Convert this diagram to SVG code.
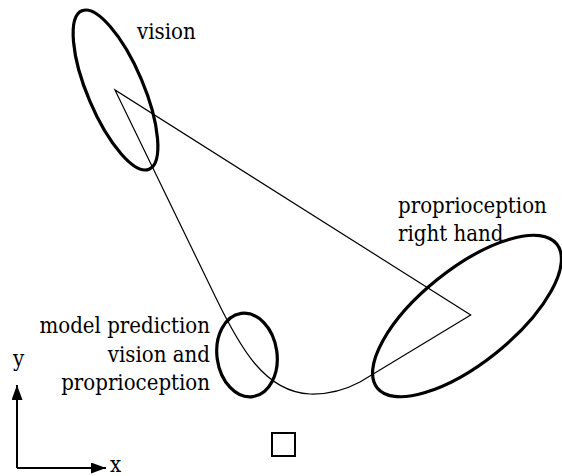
<svg xmlns="http://www.w3.org/2000/svg" width="562" height="476" viewBox="0 0 562 476">
<style>
text{font-family:'DejaVu Serif Condensed','DejaVu Serif',serif;font-stretch:condensed;font-size:22px;fill:#000}
.e{fill:none;stroke:#000;stroke-width:3.2}
.ln{fill:none;stroke:#000;stroke-width:1.2;stroke-linejoin:miter}
.ax{fill:none;stroke:#000;stroke-width:2}
</style>
<defs>
<marker id="ah" markerWidth="16" markerHeight="12" refX="15" refY="5.5" orient="auto" markerUnits="userSpaceOnUse">
<path d="M0,0 L15,5.5 L0,11 Z" fill="#000"/>
</marker>
</defs>
<rect width="562" height="476" fill="#fff"/>
<g id="connectors">
<path class="ln" d="M115,90 L215,296 C240,348 265,392 310,394 C328,394.5 345,390 360,382 L470.7,315 Z"/>
</g>
<g id="vision">
<ellipse class="e" cx="115.5" cy="90" rx="86" ry="28" transform="rotate(67 115.5 90)"/>
<text x="137" y="39">vision</text>
</g>
<g id="proprioception-right-hand">
<ellipse class="e" cx="467" cy="316" rx="115" ry="47" transform="rotate(-38.7 467 316)"/>
<text x="398" y="213">proprioception</text>
<text x="398" y="241">right hand</text>
</g>
<g id="model-prediction">
<ellipse class="e" cx="247" cy="355" rx="30" ry="42" transform="rotate(-8 247 355)"/>
<text x="210" y="333" text-anchor="end">model prediction</text>
<text x="210" y="362" text-anchor="end">vision and</text>
<text x="210" y="390" text-anchor="end">proprioception</text>
</g>
<g id="target">
<rect x="272" y="433" width="23" height="23" fill="none" stroke="#000" stroke-width="2"/>
</g>
<g id="axes">
<path class="ax" d="M17,468 L17,385" marker-end="url(#ah)"/>
<path class="ax" d="M17,468 L106,468" marker-end="url(#ah)"/>
<text x="13" y="366">y</text>
<text x="110" y="472">x</text>
</g>
</svg>
